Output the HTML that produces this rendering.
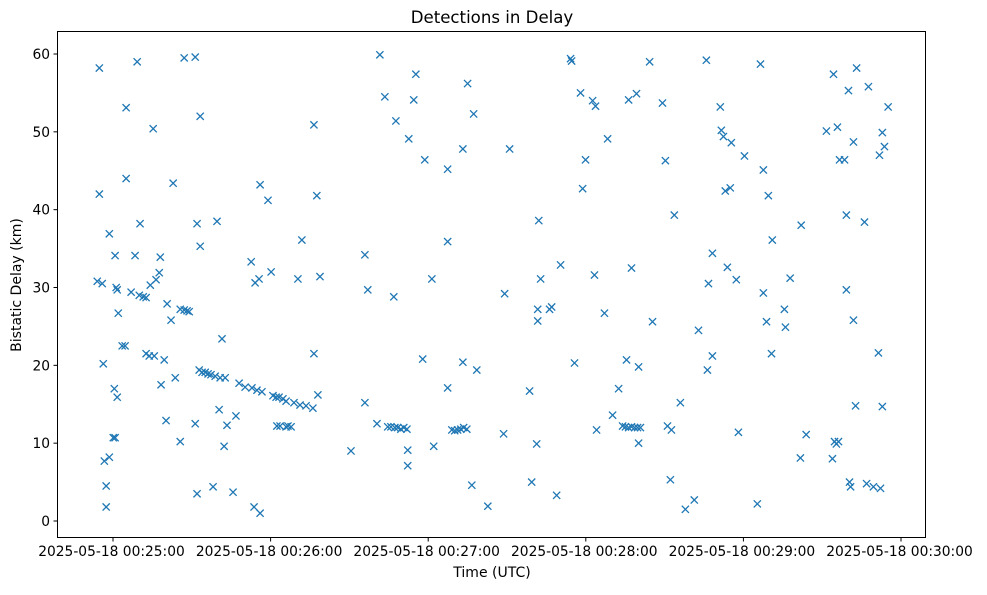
<!DOCTYPE html>
<html><head><meta charset="utf-8"><style>
body{margin:0;background:#fff;font-family:"Liberation Sans","DejaVu Sans",sans-serif}
svg text{font-family:"DejaVu Sans","Liberation Sans",sans-serif}
</style></head><body>
<svg id="chart" width="987" height="590" xmlns="http://www.w3.org/2000/svg">
<rect width="987" height="590" fill="#fff"/>
<text x="492" y="23" font-size="16.6" text-anchor="middle">Detections in Delay</text>
<text x="492" y="577" font-size="14" text-anchor="middle">Time (UTC)</text>
<text transform="translate(21,285) rotate(-90)" font-size="14" text-anchor="middle">Bistatic Delay (km)</text>
<g id="marks"></g>
<g id="axes"></g>
<rect x="57.5" y="31.5" width="868" height="506" fill="none" stroke="#000" stroke-width="1"/>
</svg>
<script>
// seconds after 00:24:54 UTC
const T0 = 24*60+54;
const times = [0,0.8,0.8,1.9,2.3,2.7,3.4,3.4,4.6,4.6,6.1,6.8,6.5,6.8,7.2,7.6,7.6,8.0,9.5,10.6,11.0,11.0,12.9,14.4,15.2,16.3,16.0,17.5,18.6,18.6,19.8,20.2,21.3,21.7,22.4,23.6,24.0,24.3,25.5,26.2,26.6,28.1,28.9,29.7,31.6,31.6,33.1,33.1,34.2,35.0,37.3,37.3,38.0,38.0,38.8,39.2,39.2,39.9,41.1,42.2,43.3,44.1,44.9,45.6,46.8,46.4,47.5,48.3,48.7,49.4,51.7,52.8,54.0,56.3,58.6,58.9,59.7,60.1,60.8,61.6,62.0,62.0,62.7,65.0,66.2,66.9,68.1,68.4,69.6,69.2,70.7,71.9,72.6,73.8,71.9,74.9,76.4,77.2,77.9,79.5,82.1,82.5,82.5,83.6,84.0,84.8,96.6,101.9,101.9,103.0,106.5,107.6,109.5,110.6,111.8,112.9,113.7,113.3,114.4,115.6,116.7,117.9,118.2,118.6,118.2,120.5,121.3,123.9,124.7,127.4,128.1,133.4,133.4,133.4,135.0,136.1,137.2,138.4,139.2,139.5,140.7,139.2,141.0,142.6,143.3,144.5,148.7,154.7,155.1,157.0,164.6,165.4,167.3,167.7,167.7,168.1,168.8,172.2,173.0,174.9,176.4,180.2,180.6,181.7,184.0,184.8,185.9,188.6,189.7,189.3,190.1,193.1,194.3,196.2,198.5,200.0,201.5,201.1,202.3,202.3,203.4,203.4,204.6,205.3,205.7,206.1,206.8,206.1,210.3,211.4,215.2,216.3,217.1,218.2,218.6,219.7,222.0,223.9,227.3,228.9,231.9,232.7,232.3,234.2,234.2,237.2,237.6,238.4,239.1,239.9,241.0,241.4,243.3,244.1,246.4,251.3,252.5,253.6,253.6,254.8,255.5,256.7,257.0,261.6,262.0,263.8,267.7,268.0,269.9,277.6,279.9,280.3,280.7,281.8,281.4,282.2,282.6,284.5,285.2,285.2,286.0,286.4,286.8,287.9,287.9,288.7,289.1,292.1,292.9,293.6,295.5,297.4,297.8,298.2,298.9,299.7,298.9,301.1];
const delays = [30.8,58.2,42.0,30.5,20.2,7.7,4.5,1.8,36.9,8.2,10.7,10.7,17.0,34.1,30.0,29.7,15.9,26.7,22.5,22.5,53.1,44.0,29.4,34.1,59.0,38.2,29.0,28.8,28.7,21.5,21.2,30.3,50.4,21.2,31.0,31.9,33.9,17.5,20.7,12.9,27.9,25.8,43.4,18.4,10.2,27.2,27.1,59.5,27.0,26.9,59.6,12.5,3.5,38.2,19.4,35.3,52.0,19.1,19.1,18.9,18.8,4.4,18.6,38.5,18.4,14.3,23.4,9.6,18.4,12.3,3.7,13.5,17.7,17.2,33.3,17.1,1.8,30.6,16.8,31.1,43.2,1.0,16.6,41.2,32.0,16.1,15.9,12.2,12.2,15.9,15.7,12.1,12.2,12.1,15.4,15.2,31.1,14.9,36.1,14.8,14.5,21.5,50.9,41.8,16.2,31.4,9.0,15.2,34.2,29.7,12.5,59.9,54.5,12.1,12.1,28.8,51.4,12.0,12.0,11.8,12.0,11.8,9.1,49.1,7.1,54.1,57.4,20.8,46.4,31.1,9.6,45.2,35.9,17.1,11.7,11.6,11.7,11.8,20.4,12.0,11.8,47.8,56.2,4.6,52.3,19.4,1.9,11.2,29.2,47.8,16.7,5.0,9.9,25.7,27.2,38.6,31.1,27.2,27.5,3.3,32.9,59.4,59.1,20.3,55.0,42.7,46.4,54.0,53.3,31.6,11.7,26.7,49.1,13.6,17.0,12.2,20.7,12.1,54.1,12.0,32.5,12.1,12.0,54.9,12.0,19.8,12.0,10.0,59.0,25.6,53.7,46.3,12.2,5.3,11.7,39.3,15.2,1.5,2.7,24.5,59.2,30.5,19.4,21.2,34.4,53.2,50.2,49.4,42.4,32.6,42.8,48.6,31.0,11.4,46.9,2.2,58.7,45.1,29.3,25.6,41.8,21.5,36.1,27.2,24.9,31.2,8.1,38.0,11.1,50.1,8.0,57.4,10.2,50.6,9.9,10.2,46.4,46.4,29.7,39.3,55.3,5.0,4.4,25.8,48.7,14.8,58.2,38.4,4.8,55.8,4.4,21.6,47.0,4.2,49.9,48.1,14.7,53.2];
const xTickSecs = [1500,1560,1620,1680,1740,1800];
const xTickLabels = ["2025-05-18 00:25:00","2025-05-18 00:26:00","2025-05-18 00:27:00","2025-05-18 00:28:00","2025-05-18 00:29:00","2025-05-18 00:30:00"];
const yTicks = [0,10,20,30,40,50,60];

const NS="http://www.w3.org/2000/svg";
function xs(s){return 113 + (s-1500)*157.6/60;}
function ys(v){return 521 - v*467/60;}
function mk(tag,attrs,parent){const e=document.createElementNS(NS,tag);for(const k in attrs)e.setAttribute(k,attrs[k]);parent.appendChild(e);return e;}
const axes=document.getElementById('axes');
xTickSecs.forEach((s,i)=>{
  const x=xs(s);
  const l=mk('line',{x1:x,x2:x,y1:537.5,y2:541.5,stroke:'#000'},axes);
  
  
  const t=mk('text',{x:x-1.5,y:556,'font-size':'13.8','text-anchor':'middle'},axes);
  t.textContent=xTickLabels[i];
  
  
});
yTicks.forEach(v=>{
  const y=ys(v);
  const l=mk('line',{x1:53.5,x2:57.5,y1:y,y2:y,stroke:'#000'},axes);
  
  
  const t=mk('text',{x:50,y:y+5,'font-size':'13.8','text-anchor':'end'},axes);
  t.textContent=String(v);
  
  
});
const marks=document.getElementById('marks');
const r=3.6;
times.forEach((t,i)=>{
  const x=xs(T0+t), y=ys(delays[i]);
  const p=mk('path',{d:`M${x-r},${y-r}L${x+r},${y+r}M${x-r},${y+r}L${x+r},${y-r}`,stroke:'#1f77b4','stroke-width':'1.3',fill:'none'},marks);
  
  
});
</script>
</body></html>
